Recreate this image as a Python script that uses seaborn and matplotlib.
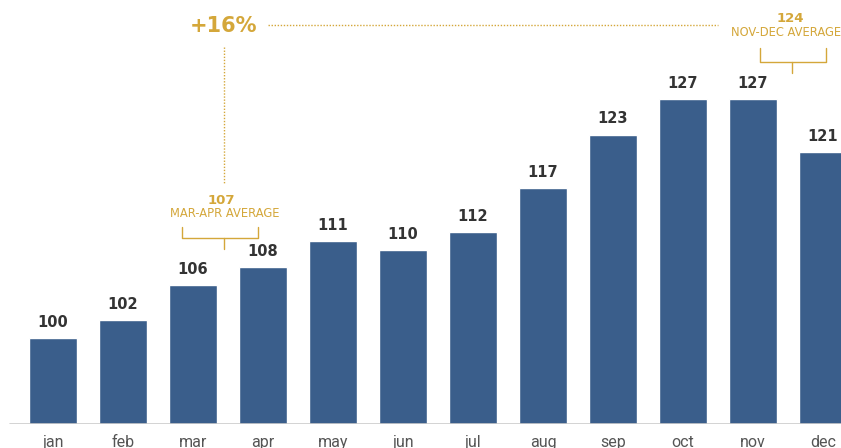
import matplotlib
matplotlib.use("Agg")
import matplotlib.pyplot as plt
import seaborn as sns
import pandas as pd

#--------------------data-------------------------------------------------------
months = ["jan", "feb", "mar", "apr", "may", "jun", "jul", "aug", "sep", "oct", "nov", "dec"]
values = [100, 102, 106, 108, 111, 110, 112, 117, 123, 127, 127, 121]

growth_label = "+16%"
start_avg = 107
start_avg_label = "MAR-APR AVERAGE"
end_avg = 124
end_avg_label = "NOV-DEC AVERAGE"

#--------------------style------------------------------------------------------
bar_color = "#3a5e8b"
gold = "#d4a73a"
value_color = "#333333"
tick_color = "#555555"

sns.set_style("white")
plt.rcParams["font.family"] = ["DejaVu Sans"]

df = pd.DataFrame({"month": months, "value": values})

fig = plt.figure(figsize=(8.41, 4.48), dpi=100)
ax = fig.add_axes([0, 24 / 448, 1, 424 / 448])

sns.barplot(data=df, x="month", y="value", color=bar_color, saturation=1,
            width=0.68, ax=ax)

ax.set_xlim(-0.757, 11.257)
ax.set_ylim(90.3, 138.2)

# value labels on top of bars
for i, v in enumerate(values):
    ax.annotate(str(v), (i, v), xytext=(0, 8), textcoords="offset points",
                ha="center", va="baseline", fontsize=10.5, fontweight="bold",
                color=value_color)

# baseline
ax.axhline(90.3, xmin=10 / 841, xmax=1, color="#cccccc", lw=1.2, zorder=3)

for s in ax.spines.values():
    s.set_visible(False)
ax.set_yticks([])
ax.set_xlabel("")
ax.set_ylabel("")
ax.tick_params(axis="x", length=0, pad=8)
for lab in ax.get_xticklabels():
    lab.set_fontfamily("Roboto")
    lab.set_fontsize(11.5)
    lab.set_color(tick_color)

#--------------------annotations-------------------------------------------------
# growth label and connectors
ax.text(2.43, 135.3, growth_label, ha="center", va="center", fontsize=15,
        fontweight="bold", color=gold)
ax.plot([3.07, 9.5], [135.4, 135.4], ls=(0, (1, 1.2)), lw=1, color=gold)
ax.plot([2.44, 2.44], [132.9, 117.5], ls=(0, (1, 1.2)), lw=1, color=gold)

# mar-apr average
ax.text(2.4, 115.6, str(start_avg), ha="center", va="center", fontsize=9.5,
        fontweight="bold", color=gold)
ax.text(2.46, 114.1, start_avg_label, ha="center", va="center", fontsize=8.3,
        color=gold)
ax.plot([1.84, 1.84, 2.93, 2.93], [112.6, 111.3, 111.3, 112.6], lw=1, color=gold)
ax.plot([2.44, 2.44], [111.3, 110.1], lw=1, color=gold)

# nov-dec average
ax.text(10.54, 136.1, str(end_avg), ha="center", va="center", fontsize=9.5,
        fontweight="bold", color=gold)
ax.text(9.68, 134.5, end_avg_label, ha="left", va="center", fontsize=8.3,
        color=gold)
ax.plot([10.1, 10.1, 11.04, 11.04], [132.8, 131.2, 131.2, 132.8], lw=1, color=gold)
ax.plot([10.56, 10.56], [131.2, 129.96], lw=1, color=gold)

fig.savefig("out.png", dpi=100)
